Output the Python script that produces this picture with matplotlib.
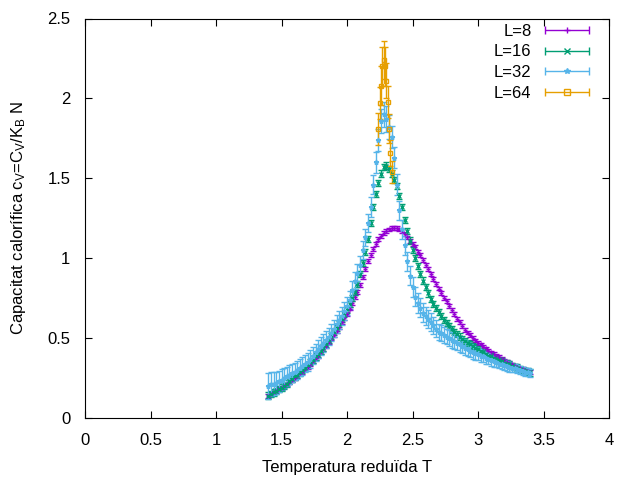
import numpy as np
import matplotlib
matplotlib.use("Agg")
import matplotlib.pyplot as plt
from matplotlib.ticker import FuncFormatter, MultipleLocator
from matplotlib.legend_handler import HandlerErrorbar

plt.rcParams['font.family'] = ['Liberation Sans', 'DejaVu Sans']
plt.rcParams['mathtext.default'] = 'regular'

# Temperatures (common grid for L=8,16,32)
T = [1.40, 1.42, 1.44, 1.46, 1.48, 1.50, 1.52, 1.54, 1.56, 1.58,
     1.60, 1.62, 1.64, 1.66, 1.68, 1.70, 1.72, 1.74, 1.76, 1.78,
     1.80, 1.82, 1.84, 1.86, 1.88, 1.90, 1.92, 1.94, 1.96, 1.98,
     2.00, 2.02, 2.04, 2.06, 2.08, 2.10, 2.12, 2.14, 2.16, 2.18,
     2.20, 2.22, 2.24, 2.26, 2.28, 2.30, 2.32, 2.34, 2.36, 2.38,
     2.40, 2.42, 2.44, 2.46, 2.48, 2.50, 2.52, 2.54, 2.56, 2.58,
     2.60, 2.62, 2.64, 2.66, 2.68, 2.70, 2.72, 2.74, 2.76, 2.78,
     2.80, 2.82, 2.84, 2.86, 2.88, 2.90, 2.92, 2.94, 2.96, 2.98,
     3.00, 3.02, 3.04, 3.06, 3.08, 3.10, 3.12, 3.14, 3.16, 3.18,
     3.20, 3.22, 3.24, 3.26, 3.28, 3.30, 3.32, 3.34, 3.36, 3.38,
     3.40]

cv_L8 = [0.14, 0.15, 0.16, 0.17, 0.18, 0.19, 0.20, 0.21, 0.225, 0.24,
         0.25, 0.265, 0.28, 0.29, 0.305, 0.32, 0.34, 0.355, 0.375, 0.39,
         0.41, 0.43, 0.45, 0.475, 0.50, 0.52, 0.545, 0.57, 0.60, 0.625,
         0.65, 0.685, 0.72, 0.755, 0.79, 0.83, 0.88, 0.93, 0.98, 1.02,
         1.06, 1.09, 1.12, 1.14, 1.16, 1.17, 1.18, 1.19, 1.19, 1.19,
         1.18, 1.17, 1.15, 1.13, 1.11, 1.09, 1.07, 1.04, 1.02, 0.99,
         0.96, 0.93, 0.90, 0.87, 0.84, 0.81, 0.78, 0.75, 0.73, 0.70,
         0.675, 0.65, 0.62, 0.60, 0.575, 0.55, 0.535, 0.52, 0.50, 0.485,
         0.47, 0.46, 0.445, 0.435, 0.42, 0.41, 0.40, 0.39, 0.38, 0.37,
         0.36, 0.35, 0.345, 0.335, 0.325, 0.32, 0.31, 0.305, 0.30, 0.295,
         0.29]

cv_L16 = [0.14, 0.15, 0.16, 0.17, 0.18, 0.19, 0.20, 0.215, 0.23, 0.245,
          0.26, 0.27, 0.285, 0.30, 0.315, 0.33, 0.35, 0.365, 0.385, 0.40,
          0.42, 0.44, 0.465, 0.49, 0.515, 0.54, 0.565, 0.59, 0.62, 0.65,
          0.68, 0.715, 0.75, 0.79, 0.84, 0.90, 0.97, 1.04, 1.12, 1.22,
          1.32, 1.40, 1.47, 1.53, 1.57, 1.58, 1.56, 1.53, 1.49, 1.45,
          1.39, 1.32, 1.24, 1.17, 1.11, 1.05, 1.00, 0.95, 0.90, 0.86,
          0.82, 0.78, 0.745, 0.715, 0.69, 0.665, 0.64, 0.615, 0.595, 0.575,
          0.555, 0.54, 0.525, 0.51, 0.495, 0.48, 0.47, 0.46, 0.45, 0.44,
          0.43, 0.42, 0.41, 0.40, 0.39, 0.385, 0.375, 0.37, 0.36, 0.355,
          0.345, 0.34, 0.335, 0.325, 0.32, 0.315, 0.305, 0.30, 0.295, 0.29,
          0.285]

cv_L32 = [0.20, 0.21, 0.215, 0.22, 0.23, 0.24, 0.25, 0.26, 0.27, 0.28,
          0.29, 0.30, 0.315, 0.325, 0.34, 0.35, 0.37, 0.39, 0.41, 0.43,
          0.45, 0.47, 0.49, 0.51, 0.535, 0.56, 0.59, 0.615, 0.64, 0.67,
          0.70, 0.74, 0.80, 0.86, 0.91, 0.96, 1.05, 1.13, 1.22, 1.32,
          1.46, 1.60, 1.74, 1.86, 1.90, 1.87, 1.82, 1.76, 1.63, 1.46,
          1.30, 1.18, 1.08, 0.98, 0.89, 0.82, 0.76, 0.72, 0.69, 0.66,
          0.64, 0.62, 0.60, 0.58, 0.56, 0.54, 0.53, 0.52, 0.51, 0.50,
          0.49, 0.48, 0.47, 0.46, 0.45, 0.44, 0.43, 0.42, 0.41, 0.405,
          0.40, 0.39, 0.385, 0.375, 0.37, 0.36, 0.355, 0.35, 0.34, 0.335,
          0.33, 0.325, 0.32, 0.315, 0.31, 0.305, 0.30, 0.295, 0.29, 0.285,
          0.28]

err_L8 = 0.012
err_L16 = 0.02
err_L32 = [0.08, 0.075, 0.07, 0.07, 0.065, 0.065, 0.06, 0.06, 0.06, 0.055,
           0.055, 0.055, 0.055, 0.055, 0.055, 0.055, 0.055, 0.055, 0.055, 0.055,
           0.055, 0.055, 0.055, 0.055, 0.055, 0.055, 0.055, 0.055, 0.055, 0.055,
           0.055, 0.055, 0.055, 0.055, 0.055, 0.055, 0.055, 0.055, 0.055, 0.06,
           0.06, 0.065, 0.07, 0.075, 0.08, 0.08, 0.075, 0.07, 0.065, 0.065,
           0.06, 0.06, 0.06, 0.06, 0.06, 0.06, 0.06, 0.06, 0.06, 0.06,
           0.055, 0.055, 0.055, 0.055, 0.055, 0.05, 0.05, 0.05, 0.05, 0.05,
           0.05, 0.05, 0.045, 0.045, 0.045, 0.045, 0.045, 0.04, 0.04, 0.04,
           0.04, 0.04, 0.035, 0.035, 0.035, 0.035, 0.035, 0.03, 0.03, 0.03,
           0.03, 0.03, 0.03, 0.025, 0.025, 0.025, 0.025, 0.025, 0.025, 0.025,
           0.025]

T_L64 = [2.24, 2.25, 2.26, 2.27, 2.28, 2.29, 2.30, 2.31, 2.32, 2.33, 2.34]
cv_L64 = [1.81, 1.97, 2.08, 2.20, 2.24, 2.20, 2.11, 1.98, 1.81, 1.66, 1.54]
err_L64 = [0.10, 0.10, 0.12, 0.12, 0.12, 0.12, 0.11, 0.10, 0.09, 0.08, 0.07]

labels = ['L=8', 'L=16', 'L=32', 'L=64']
colors = ['#9400d3', '#009e73', '#56b4e9', '#e69f00']
markers = ['+', 'x', '*', 's']

FS = 12
LW = 1.0
fig = plt.figure(figsize=(6.4, 4.8), dpi=100)
ax = fig.add_axes([85/640, 1-418/480, (609-85)/640, (418-18.5)/480])

series = [(T, cv_L8, err_L8), (T, cv_L16, err_L16), (T, cv_L32, err_L32),
          (T_L64, cv_L64, err_L64)]
for (x, y, e), c, m in zip(series, colors, markers):
    mfc = 'none' if m == 's' else c
    ax.errorbar(x, y, yerr=e, fmt=m, color=c, ecolor=c, elinewidth=LW,
                capsize=2.0, capthick=LW, markersize=3.5, mew=LW, mfc=mfc)

ax.set_xlim(0, 4)
ax.set_ylim(0, 2.5)
ax.xaxis.set_major_locator(MultipleLocator(0.5))
ax.yaxis.set_major_locator(MultipleLocator(0.5))
fmt = FuncFormatter(lambda v, p: '%g' % v)
ax.xaxis.set_major_formatter(fmt)
ax.yaxis.set_major_formatter(fmt)
ax.tick_params(direction='in', top=True, right=True, length=5, width=0.8,
               labelsize=FS, pad=10.5)
for s in ax.spines.values():
    s.set_linewidth(0.8)

ax.set_xlabel('Temperatura reduïda T', fontsize=FS, labelpad=9)
ax.set_ylabel('Capacitat calorífica c$_V$=C$_V$/K$_B$ N', fontsize=FS, labelpad=14)

# legend proxies (gnuplot-style horizontal error bar samples)
HL = 2.65
handles = []
for c, m in zip(colors, markers):
    mfc = 'none' if m == 's' else c
    h = ax.errorbar([np.nan], [np.nan], xerr=[1], fmt=m, color=c, ecolor=c,
                    elinewidth=LW, capsize=2.6, capthick=LW, markersize=4,
                    mew=LW, mfc=mfc)
    handles.append(h)
leg = ax.legend(handles, labels, loc='upper right', frameon=False,
                markerfirst=False, fontsize=FS, handlelength=HL,
                handletextpad=0.8, labelspacing=0.33, borderaxespad=0.0,
                borderpad=0.0,
                bbox_to_anchor=((589-85)/524, (418-24)/399.5),
                handler_map={type(handles[0]): HandlerErrorbar(xerr_size=HL/2)})

fig.savefig('out.png', dpi=100)
